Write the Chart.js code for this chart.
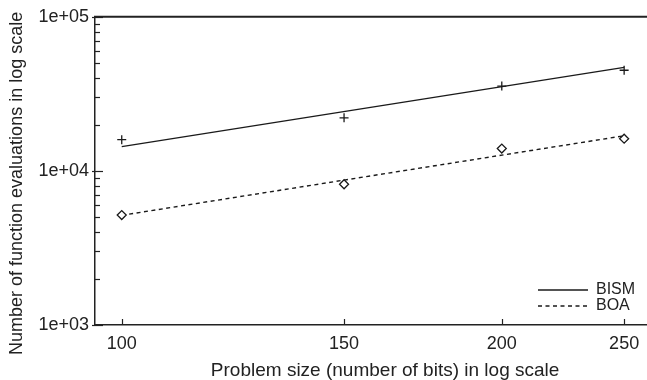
<!DOCTYPE html>
<html><head><meta charset="utf-8">
<script src="https://cdn.jsdelivr.net/npm/chart.js@4.4.1/dist/chart.umd.min.js"></script>
<style>
html,body{margin:0;padding:0;background:#fff;overflow:hidden;}
#wrap{width:647px;height:380px;overflow:hidden;position:relative;}
canvas{display:block;}
</style></head><body>
<div id="wrap"><canvas id="c" width="681" height="380"></canvas></div>
<script>
// ---- data ----
const problemSizes = [100, 150, 200, 250];
const bismEvaluations = [15950, 22100, 35500, 45000];
const boaEvaluations = [5170, 8190, 13960, 16180];
const fitSizes = [100, 250];
const bismFit = [14380, 47000];
const boaFit = [5150, 16900];
const seriesNames = ['BISM', 'BOA'];
const xTickValues = [100, 150, 200, 250];
const xTickLabels = ['100', '150', '200', '250'];
const yTickValues = [1000, 10000, 100000];
const yTickLabels = ['1e+03', '1e+04', '1e+05'];
const xTitle = 'Problem size (number of bits) in log scale';
const yTitle = 'Number of function evaluations in log scale';

const FONT = "'Liberation Sans', Arial, Helvetica, sans-serif";
const INK = '#1a1a1a';

function pts(xs, ys) { return xs.map((x, i) => ({x: x, y: ys[i]})); }

// minor + major y ticks (1..9 per decade)
function yAllTicks() {
  const out = [];
  for (let i = 0; i < yTickValues.length - 1; i++) {
    for (let k = 1; k <= 9; k++) out.push(yTickValues[i] * k);
  }
  out.push(yTickValues[yTickValues.length - 1]);
  return out;
}

const framePlugin = {
  id: 'frame',
  afterLayout(chart) {
    // place the legend inside the plot area, lower right
    const lg = chart.legend;
    if (lg) {
      lg.left = 538; lg.top = 280; lg.right = 640; lg.bottom = 316;
      lg.width = 102; lg.height = 36;
    }
  },
  afterDraw(chart) {
    const {ctx, chartArea: a, scales: {x, y}} = chart;
    ctx.save();
    ctx.strokeStyle = '#222';
    ctx.lineWidth = 1.2;
    y.ticks.forEach(t => {
      const py = Math.round(y.getPixelForValue(t.value)) + 0.5;
      const major = yTickValues.includes(t.value);
      ctx.beginPath();
      ctx.moveTo(a.left - (major ? 3 : 0), py);
      ctx.lineTo(a.left + (major ? 8 : 5), py);
      ctx.stroke();
    });
    x.ticks.forEach(t => {
      const px = Math.round(x.getPixelForValue(t.value)) + 0.5;
      ctx.beginPath();
      ctx.moveTo(px, a.bottom);
      ctx.lineTo(px, a.bottom - 6);
      ctx.stroke();
    });
    ctx.lineWidth = 2;
    ctx.strokeStyle = '#222';
    ctx.beginPath();
    ctx.moveTo(a.left - 1, a.top);
    ctx.lineTo(a.right, a.top);
    ctx.stroke();
    ctx.restore();
  }
};

new Chart(document.getElementById('c'), {
  type: 'scatter',
  data: {
    datasets: [
      {
        label: seriesNames[0] + ' data',
        data: pts(problemSizes, bismEvaluations),
        pointStyle: 'cross', pointRadius: 4.5, pointBorderWidth: 1.3,
        borderColor: INK, backgroundColor: INK, showLine: false
      },
      {
        label: seriesNames[1] + ' data',
        data: pts(problemSizes, boaEvaluations),
        pointStyle: 'rectRot', pointRadius: 4.5, pointBorderWidth: 1.3,
        borderColor: INK, backgroundColor: '#fff', showLine: false
      },
      {
        label: seriesNames[0],
        data: pts(fitSizes, bismFit),
        showLine: true, pointRadius: 0, borderColor: INK, borderWidth: 1.4, fill: false
      },
      {
        label: seriesNames[1],
        data: pts(fitSizes, boaFit),
        showLine: true, pointRadius: 0, borderColor: INK, borderWidth: 1.4,
        borderDash: [4, 3.5], fill: false
      }
    ]
  },
  options: {
    responsive: false,
    animation: false,
    devicePixelRatio: 1,
    layout: {padding: {top: 14, left: 0, right: 0, bottom: 0}},
    plugins: {
      tooltip: {enabled: false},
      legend: {
        display: true,
        position: 'chartArea',
        labels: {
          usePointStyle: true,
          pointStyleWidth: 50,
          boxHeight: 16,
          padding: 0,
          color: '#222',
          font: {family: FONT, size: 16},
          generateLabels: () => [
            {text: seriesNames[0], pointStyle: 'line', strokeStyle: INK, fillStyle: INK,
             lineWidth: 1.4, lineDash: [], hidden: false, datasetIndex: 2, fontColor: '#222'},
            {text: seriesNames[1], pointStyle: 'line', strokeStyle: INK, fillStyle: INK,
             lineWidth: 1.4, lineDash: [4, 3.5], hidden: false, datasetIndex: 3, fontColor: '#222'}
          ]
        }
      }
    },
    scales: {
      x: {
        type: 'logarithmic',
        min: 95.24,
        max: 274.4,
        afterBuildTicks: s => { s.ticks = xTickValues.map(v => ({value: v})); },
        afterFit: s => { s.height = 55; },
        grid: {display: true, drawOnChartArea: false, drawTicks: false},
        border: {display: true, color: '#222', width: 1.5},
        ticks: {
          autoSkip: false, maxRotation: 0, padding: 8, color: '#222',
          font: {family: FONT, size: 18},
          callback: (v) => { const i = xTickValues.indexOf(v); return i >= 0 ? xTickLabels[i] : ''; }
        },
        title: {
          display: true, text: xTitle, color: '#222',
          font: {family: FONT, size: 19, lineHeight: 1},
          padding: {top: 0, bottom: 0}
        }
      },
      y: {
        type: 'logarithmic',
        min: 1000,
        max: 100000,
        afterBuildTicks: s => { s.ticks = yAllTicks().map(v => ({value: v})); },
        afterFit: s => { s.width = 95; },
        grid: {display: true, drawOnChartArea: false, drawTicks: false},
        border: {display: true, color: '#222', width: 1.5},
        ticks: {
          autoSkip: false, padding: 6, color: '#222',
          font: {family: FONT, size: 18},
          callback: (v) => { const i = yTickValues.indexOf(v); return i >= 0 ? yTickLabels[i] : ''; }
        },
        title: {
          display: true, text: yTitle + '\u00a0\u00a0\u00a0\u00a0\u00a0', color: '#222',
          font: {family: FONT, size: 18},
          padding: {top: 6, bottom: 0}
        }
      }
    }
  },
  plugins: [framePlugin]
});
</script>
</body></html>
